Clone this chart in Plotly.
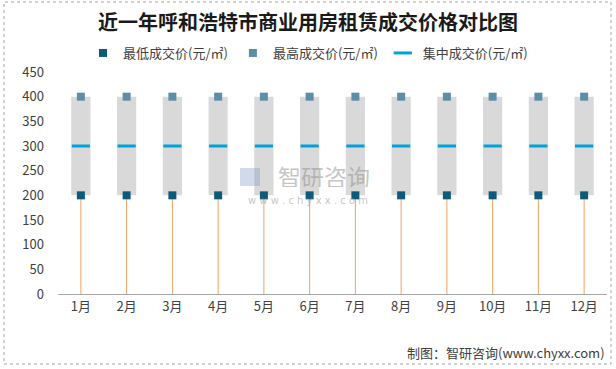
import plotly.graph_objects as go

months = ["1月", "2月", "3月", "4月", "5月", "6月", "7月", "8月", "9月", "10月", "11月", "12月"]
low = [200] * 12
high = [400] * 12
mid = [300] * 12
yticks = [0, 50, 100, 150, 200, 250, 300, 350, 400, 450]

W, H = 616, 369
L, R, T, B = 58, 9, 72, 75
pw, ph = W - L - R, H - T - B

def px2x(p):
    return (p - L) / pw

def px2y(p):
    return (H - B - p) / ph

fig = go.Figure()

# gray range bars
fig.add_trace(go.Bar(x=months, y=[h - l for h, l in zip(high, low)], base=low,
                     marker=dict(color="#D9D9D9", line=dict(width=0)), width=0.42,
                     showlegend=False, hoverinfo="skip"))

# orange stems from 0 to low
sx, sy = [], []
for m, l in zip(months, low):
    sx += [m, m, None]
    sy += [0, l, None]
fig.add_trace(go.Scatter(x=sx, y=sy, mode="lines", line=dict(color="#F2A35E", width=1),
                         showlegend=False, hoverinfo="skip"))

fig.add_trace(go.Scatter(x=months, y=low, mode="markers", name="最低成交价(元/㎡)",
                         marker=dict(symbol="square", size=8, color="#0D5B7B")))
fig.add_trace(go.Scatter(x=months, y=high, mode="markers", name="最高成交价(元/㎡)",
                         marker=dict(symbol="square", size=8, color="#5B8EA7")))
fig.add_trace(go.Scatter(x=months, y=mid, mode="markers", name="集中成交价(元/㎡)",
                         marker=dict(symbol="line-ew", size=13, line=dict(width=3, color="#00A2DD"),
                                     color="#00A2DD")))

font_cjk = "Noto Sans CJK SC"

fig.update_layout(
    width=W, height=H,
    margin=dict(l=L, r=R, t=T, b=B, autoexpand=False),
    paper_bgcolor="white", plot_bgcolor="white",
    font=dict(family=font_cjk, size=12, color="#404040"),
    title=dict(text="<b>近一年呼和浩特市商业用房租赁成交价格对比图</b>", x=0.5, xanchor="center",
               y=1 - 23 / H, yanchor="middle", yref="container",
               font=dict(family=font_cjk, size=20, color="#1a1a1a")),
    legend=dict(orientation="h", x=0.5, xanchor="center", xref="container",
                y=1 - 53 / H, yanchor="middle", yref="container",
                font=dict(size=13, color="#404040"), itemwidth=30, tracegroupgap=0),
    bargap=0.58,
    xaxis=dict(type="category", range=[-0.5, 11.5], showgrid=False, showline=True,
               linecolor="#A6A6A6", linewidth=1,
               ticks="", tickfont=dict(size=13, color="#404040"), zeroline=False, automargin=False),
    yaxis=dict(range=[0, 450], tickvals=yticks, showgrid=False, showline=False, zeroline=False,
               ticks="", tickfont=dict(size=13, color="#404040"), ticklabelstandoff=13,
               automargin=False),
)

# outer frame
fig.add_shape(type="rect", xref="paper", yref="paper",
              x0=px2x(4), x1=px2x(611), y0=px2y(364), y1=px2y(2),
              line=dict(color="#A6A6A6", width=1, dash="dot"), fillcolor="rgba(0,0,0,0)", layer="below")

# watermark
fig.add_annotation(xref="paper", yref="paper", x=px2x(324), y=px2y(176), text="智研咨询",
                   showarrow=False, height=22, valign="middle",
                   font=dict(family=font_cjk, size=23, color="rgba(140,140,140,0.5)"))
fig.add_annotation(xref="paper", yref="paper", x=px2x(308), y=px2y(200), text="w w w . c h y x x . c o m",
                   showarrow=False, height=11, valign="middle",
                   font=dict(family="DejaVu Sans", size=10, color="rgba(140,140,140,0.5)"))
fig.add_annotation(xref="paper", yref="paper", x=px2x(250), y=px2y(176), text="■",
                   showarrow=False, height=20, width=20, valign="middle",
                   font=dict(size=26, color="rgba(120,150,190,0.35)"))

# source
fig.add_annotation(xref="paper", yref="paper", x=px2x(607), y=px2y(352), xanchor="right", yanchor="middle",
                   text="制图：智研咨询(www.chyxx.com)", showarrow=False,
                   font=dict(family=font_cjk, size=13, color="#404040"))

fig.write_html("out.html", config={"displayModeBar": False},
               post_script="document.body.style.margin='0';")
